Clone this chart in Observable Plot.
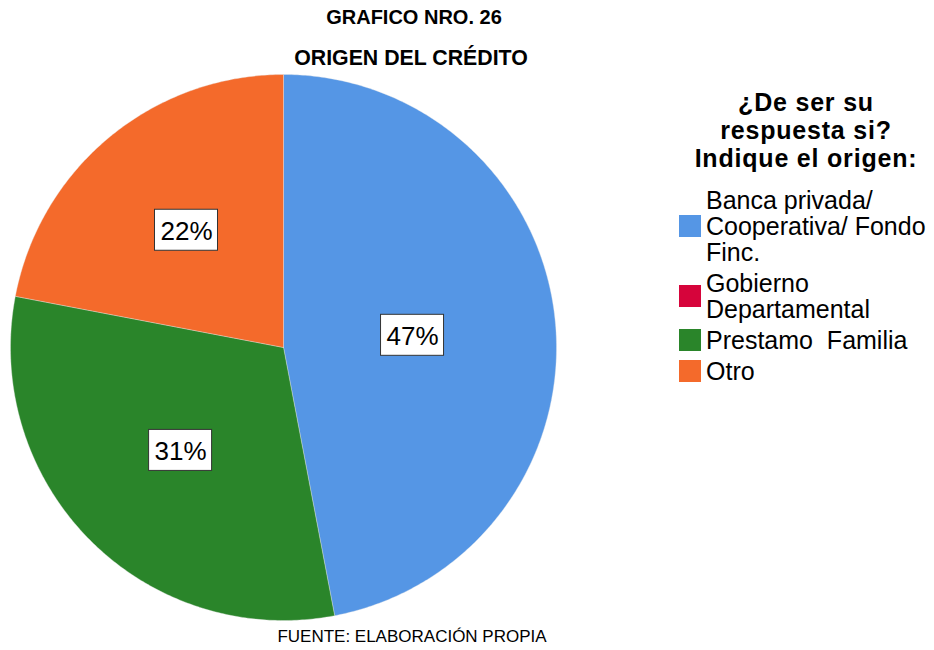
<!DOCTYPE html>
<html>
<head>
<meta charset="utf-8">
<script src="https://cdn.jsdelivr.net/npm/d3@7"></script>
<script src="https://cdn.jsdelivr.net/npm/@observablehq/plot@0.6"></script>
<style>
  html, body { margin: 0; padding: 0; background: #fff; }
  body { width: 934px; height: 650px; position: relative; overflow: hidden; font-family: "Liberation Sans", Arial, sans-serif; color: #000; }
  .t { position: absolute; left: 0; text-align: center; font-weight: bold; }
  #t1 { top: 6px; width: 828px; font-size: 20px; }
  #t2 { top: 46px; width: 822px; font-size: 21.3px; }
  #foot { position: absolute; left: 0; width: 824px; text-align: center; top: 627px; font-size: 17px; }
  #chart { position: absolute; left: 0; top: 70px; }
  #legend { position: absolute; left: 679px; top: 88px; width: 255px; }
  #ltitle { font-weight: bold; font-size: 25px; line-height: 28px; letter-spacing: 0.8px; text-align: center; width: 254px; margin-bottom: 15px; }
  .item { display: flex; align-items: center; margin-bottom: 5px; }
  .sw { width: 22px; height: 22px; flex: none; margin-right: 5px; }
  .lab { font-size: 25px; line-height: 26px; white-space: nowrap; }
</style>
</head>
<body>
<div class="t" id="t1">GRAFICO NRO. 26</div>
<div class="t" id="t2">ORIGEN DEL CRÉDITO</div>
<div id="chart"></div>
<div id="legend"></div>
<div id="foot">FUENTE: ELABORACIÓN PROPIA</div>
<script>
const categories = ["Banca privada/ Cooperativa/ Fondo Finc.", "Gobierno Departamental", "Prestamo  Familia", "Otro"];
const legendLabels = [["Banca privada/", "Cooperativa/ Fondo", "Finc."], ["Gobierno", "Departamental"], ["Prestamo\u00a0 Familia"], ["Otro"]];
const values = [47, 0, 31, 22];
const colors = ["#5596e5", "#d6043b", "#2a852a", "#f46a2b"];
const legendTitle = ["¿De ser su", "respuesta si?", "Indique el origen:"];

const R = 273; // pixel radius
const pie = d3.pie().sort(null).value(d => d.value)(categories.map((c, i) => ({cat: c, value: values[i]})));

// outline points of each slice (unit circle), angles clockwise from 12 o'clock
const pts = [];
pie.forEach(p => {
  if (p.endAngle - p.startAngle <= 0) return;
  const n = Math.max(2, Math.ceil((p.endAngle - p.startAngle) / 0.01));
  pts.push({cat: p.data.cat, x: 0, y: 0});
  for (let k = 0; k <= n; k++) {
    const a = p.startAngle + (p.endAngle - p.startAngle) * k / n;
    pts.push({cat: p.data.cat, x: Math.sin(a), y: Math.cos(a)});
  }
  pts.push({cat: p.data.cat, x: 0, y: 0});
});

// label placement: blend of half radius and sector centroid distance
const labels = pie.filter(p => p.data.value > 0).map(p => {
  const a = (p.startAngle + p.endAngle) / 2;
  const h = (p.endAngle - p.startAngle) / 2;
  const centroid = 2 * Math.sin(h) / (3 * h);
  const r = (0.5 + centroid) / 2;
  return {cat: p.data.cat, text: p.data.value + "%", x: r * Math.sin(a), y: r * Math.cos(a)};
});
const bw = 31.5 / R, bh = 20.5 / R;

const W = 570, H = 555;
const plot = Plot.plot({
  width: W, height: H,
  marginLeft: 10, marginRight: W - 10 - 2 * R,
  marginTop: 4, marginBottom: H - 4 - 2 * R,
  x: {domain: [-1, 1], axis: null},
  y: {domain: [-1, 1], axis: null},
  color: {domain: categories, range: colors, legend: false},
  style: {background: "transparent"},
  marks: [
    Plot.line(pts, {x: "x", y: "y", z: "cat", fill: "cat", stroke: "#e8e8e8", strokeWidth: 0.6, strokeOpacity: 0.6, curve: "linear"}),
    Plot.rect(labels, {x1: d => d.x - bw, x2: d => d.x + bw, y1: d => d.y - bh, y2: d => d.y + bh, fill: "white", stroke: "#333", strokeWidth: 1}),
    Plot.text(labels, {x: "x", y: "y", text: "text", fontSize: 26, fill: "black", fontFamily: "Liberation Sans, Arial, sans-serif", dy: 1})
  ]
});
document.getElementById("chart").appendChild(plot);

// legend
const lg = document.getElementById("legend");
const lt = document.createElement("div");
lt.id = "ltitle";
lt.innerHTML = legendTitle.join("<br>");
lg.appendChild(lt);
categories.forEach((c, i) => {
  const it = document.createElement("div");
  it.className = "item";
  const sw = document.createElement("div");
  sw.className = "sw";
  sw.style.background = plot.scale("color").apply(c);
  const lb = document.createElement("div");
  lb.className = "lab";
  lb.innerHTML = legendLabels[i].join("<br>");
  it.appendChild(sw); it.appendChild(lb);
  lg.appendChild(it);
});
</script>
</body>
</html>
